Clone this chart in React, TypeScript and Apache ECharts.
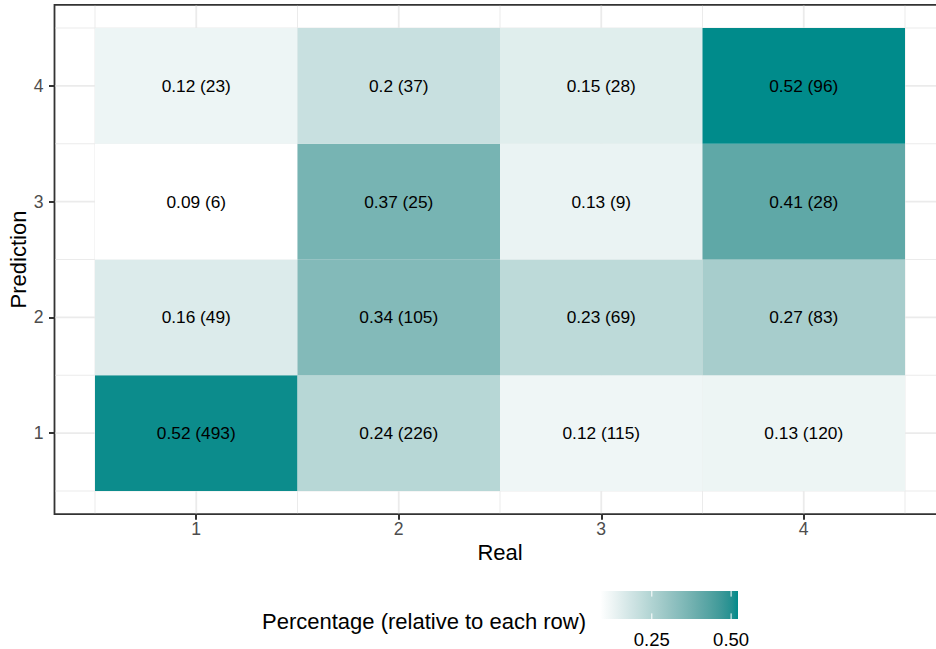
import React, { useEffect, useRef } from "react";
import * as echarts from "echarts";

// ---------- data ----------
const realLevels = [1, 2, 3, 4];
const predictionLevels = [1, 2, 3, 4];
const countsPred1 = [493, 226, 115, 120];
const countsPred2 = [49, 105, 69, 83];
const countsPred3 = [6, 25, 9, 28];
const countsPred4 = [23, 37, 28, 96];
const countRows = [countsPred1, countsPred2, countsPred3, countsPred4];
const axisTickValues = [1, 2, 3, 4];
const gridBreaks = [0.5, 1, 1.5, 2, 2.5, 3, 3.5, 4, 4.5];
const legendBreaks = [0.25, 0.5];
const legendBreakLabels = ["0.25", "0.50"];
const xTitle = "Real";
const yTitle = "Prediction";
const legendTitle = "Percentage (relative to each row)";

// ---------- style ----------
const FONT = "'Liberation Sans', Arial, Helvetica, sans-serif";
const LOW = "#FFFFFF";
const HIGH = "#008B8B";

// Lab interpolation (like scales::seq_gradient_pal)
function toLin(c: number) {
  c /= 255;
  return c <= 0.04045 ? c / 12.92 : Math.pow((c + 0.055) / 1.055, 2.4);
}
function fromLin(c: number) {
  const v = c <= 0.0031308 ? 12.92 * c : 1.055 * Math.pow(c, 1 / 2.4) - 0.055;
  return Math.round(Math.max(0, Math.min(1, v)) * 255);
}
const Xn = 0.95047, Yn = 1.0, Zn = 1.08883;
function hexToLab(hex: string) {
  const r = toLin(parseInt(hex.slice(1, 3), 16));
  const g = toLin(parseInt(hex.slice(3, 5), 16));
  const b = toLin(parseInt(hex.slice(5, 7), 16));
  const X = (0.4124564 * r + 0.3575761 * g + 0.1804375 * b) / Xn;
  const Y = (0.2126729 * r + 0.7151522 * g + 0.072175 * b) / Yn;
  const Z = (0.0193339 * r + 0.119192 * g + 0.9503041 * b) / Zn;
  const f = (t: number) => (t > 0.008856 ? Math.cbrt(t) : 7.787 * t + 16 / 116);
  const fx = f(X), fy = f(Y), fz = f(Z);
  return [116 * fy - 16, 500 * (fx - fy), 200 * (fy - fz)];
}
function labToHex(L: number, a: number, bb: number) {
  const fy = (L + 16) / 116;
  const fx = fy + a / 500;
  const fz = fy - bb / 200;
  const finv = (t: number) => (t * t * t > 0.008856 ? t * t * t : (t - 16 / 116) / 7.787);
  const X = finv(fx) * Xn, Y = finv(fy) * Yn, Z = finv(fz) * Zn;
  const r = 3.2404542 * X - 1.5371385 * Y - 0.4985314 * Z;
  const g = -0.969266 * X + 1.8760108 * Y + 0.041556 * Z;
  const b = 0.0556434 * X - 0.2040259 * Y + 1.0572252 * Z;
  const h = (v: number) => fromLin(v).toString(16).padStart(2, "0");
  return "#" + h(r) + h(g) + h(b);
}
const labLow = hexToLab(LOW);
const labHigh = hexToLab(HIGH);
function gradColor(t: number) {
  t = Math.max(0, Math.min(1, t));
  return labToHex(
    labLow[0] + (labHigh[0] - labLow[0]) * t,
    labLow[1] + (labHigh[1] - labLow[1]) * t,
    labLow[2] + (labHigh[2] - labLow[2]) * t
  );
}

// ---------- derived cells ----------
const cells: number[][] = [];
predictionLevels.forEach((p, i) => {
  const row = countRows[i];
  const total = row.reduce((s, v) => s + v, 0);
  realLevels.forEach((r, j) => {
    cells.push([r, p, row[j] / total, row[j]]);
  });
});
const pctValues = cells.map((c) => c[2]);
const pMin = Math.min(...pctValues);
const pMax = Math.max(...pctValues);
const fillFor = (v: number) => gradColor((v - pMin) / (pMax - pMin));

// round half to even, as R's round() does for exact ties
function round2(v: number) {
  const s = v * 100;
  const fl = Math.floor(s);
  const diff = s - fl;
  let n: number;
  if (Math.abs(diff - 0.5) < 1e-9) n = fl % 2 === 0 ? fl : fl + 1;
  else n = Math.round(s);
  return n / 100;
}
const fmtPct = (v: number) => String(round2(v));

// ---------- layout ----------
const GRID = { left: 54.5, top: 4.85, width: 891, height: 509.3 };
const LEG = { barLeft: 600.5, barTop: 591, barWidth: 137.5, barHeight: 28 };

export default function App() {
  const ref = useRef<HTMLDivElement>(null);
  useEffect(() => {
    if (!ref.current) return;
    const chart = echarts.init(ref.current, null, { renderer: "svg" });

    const gridLineData: number[][] = [];
    gridBreaks.forEach((v) => {
      gridLineData.push([v, 0, Number.isInteger(v) ? 1 : 0]); // vertical
      gridLineData.push([v, 1, Number.isInteger(v) ? 1 : 0]); // horizontal
    });

    const stops = [];
    for (let k = 0; k <= 24; k++) stops.push({ offset: k / 24, color: gradColor(k / 24) });

    const legendX = (v: number) => LEG.barLeft + ((v - pMin) / (pMax - pMin)) * LEG.barWidth;

    const legendGraphics: any[] = [
      {
        type: "rect",
        shape: { x: LEG.barLeft, y: LEG.barTop, width: LEG.barWidth, height: LEG.barHeight },
        style: {
          fill: { type: "linear", x: 0, y: 0, x2: 1, y2: 0, colorStops: stops },
        },
        silent: true,
      },
      {
        type: "text",
        x: 262,
        y: 621,
        style: { text: legendTitle, fontSize: 22, fill: "#000000", fontFamily: FONT, align: "left", verticalAlign: "middle" },
      },
    ];
    legendBreaks.forEach((b, i) => {
      const x = legendX(b);
      legendGraphics.push({
        type: "line",
        shape: { x1: x, y1: LEG.barTop, x2: x, y2: LEG.barTop + 5.6 },
        style: { stroke: "#FFFFFF", lineWidth: 1 },
      });
      legendGraphics.push({
        type: "line",
        shape: { x1: x, y1: LEG.barTop + LEG.barHeight - 5.6, x2: x, y2: LEG.barTop + LEG.barHeight },
        style: { stroke: "#FFFFFF", lineWidth: 1 },
      });
      legendGraphics.push({
        type: "text",
        x,
        y: 639,
        style: { text: legendBreakLabels[i], fontSize: 18.5, fill: "#000000", fontFamily: FONT, align: "center", verticalAlign: "middle" },
      });
    });

    const option: any = {
      animation: false,
      textStyle: { fontFamily: FONT },
      grid: {
        ...GRID,
        show: true,
        backgroundColor: "transparent",
        borderColor: "#333333",
        borderWidth: 1.8,
        containLabel: false,
        outerBoundsMode: "none",
      },
      xAxis: {
        type: "value",
        min: 0.3,
        max: 4.7,
        axisLine: { show: false },
        splitLine: { show: false },
        axisTick: { show: true, length: 5.5, lineStyle: { color: "#333333", width: 2 }, customValues: axisTickValues },
        axisLabel: { customValues: axisTickValues, color: "#4D4D4D", fontSize: 17.6, margin: 6, fontFamily: FONT },
      },
      yAxis: {
        type: "value",
        min: 0.3,
        max: 4.7,
        axisLine: { show: false },
        splitLine: { show: false },
        axisTick: { show: true, length: 5.5, lineStyle: { color: "#333333", width: 2 }, customValues: axisTickValues },
        axisLabel: { customValues: axisTickValues, color: "#4D4D4D", fontSize: 17.6, margin: 11, fontFamily: FONT },
      },
      series: [
        {
          type: "custom",
          z: 1,
          silent: true,
          data: gridLineData,
          encode: { x: 0, y: 1 },
          renderItem: (params: any, api: any) => {
            const v = api.value(0);
            const dir = api.value(1);
            const major = api.value(2) === 1;
            const cs = params.coordSys;
            const style = { stroke: "#EBEBEB", lineWidth: major ? 1.8 : 1 };
            if (dir === 0) {
              const px = api.coord([v, 1])[0];
              return { type: "line", shape: { x1: px, y1: cs.y + 1, x2: px, y2: cs.y + cs.height - 1 }, style };
            }
            const py = api.coord([1, v])[1];
            return { type: "line", shape: { x1: cs.x + 1, y1: py, x2: cs.x + cs.width - 1, y2: py }, style };
          },
        },
        {
          type: "custom",
          z: 2,
          data: cells,
          encode: { x: 0, y: 1 },
          renderItem: (params: any, api: any) => {
            const x = api.value(0);
            const y = api.value(1);
            const pct = api.value(2);
            const cnt = api.value(3);
            const c = api.coord([x, y]);
            const s = api.size([1, 1]);
            return {
              type: "rect",
              shape: { x: c[0] - s[0] / 2, y: c[1] - s[1] / 2, width: s[0], height: s[1] },
              style: { fill: fillFor(pct) },
              textContent: {
                style: {
                  text: fmtPct(pct) + " (" + cnt + ")",
                  fill: "#000000",
                  fontSize: 17.3,
                  fontFamily: FONT,
                },
              },
              textConfig: { position: "inside" },
            };
          },
        },
      ],
      graphic: [
        {
          type: "text",
          x: 500,
          y: 552,
          style: { text: xTitle, fontSize: 22, fill: "#000000", fontFamily: FONT, align: "center", verticalAlign: "middle" },
        },
        {
          type: "text",
          x: 18,
          y: 259.5,
          rotation: Math.PI / 2,
          style: { text: yTitle, fontSize: 22, fill: "#000000", fontFamily: FONT, align: "center", verticalAlign: "middle" },
        },
        ...legendGraphics,
      ],
    };
    chart.setOption(option);
    return () => chart.dispose();
  }, []);
  return (
    <div
      ref={ref}
      style={{ position: "absolute", left: 0, top: 0, width: 936, height: 649, background: "#FFFFFF" }}
    />
  );
}
